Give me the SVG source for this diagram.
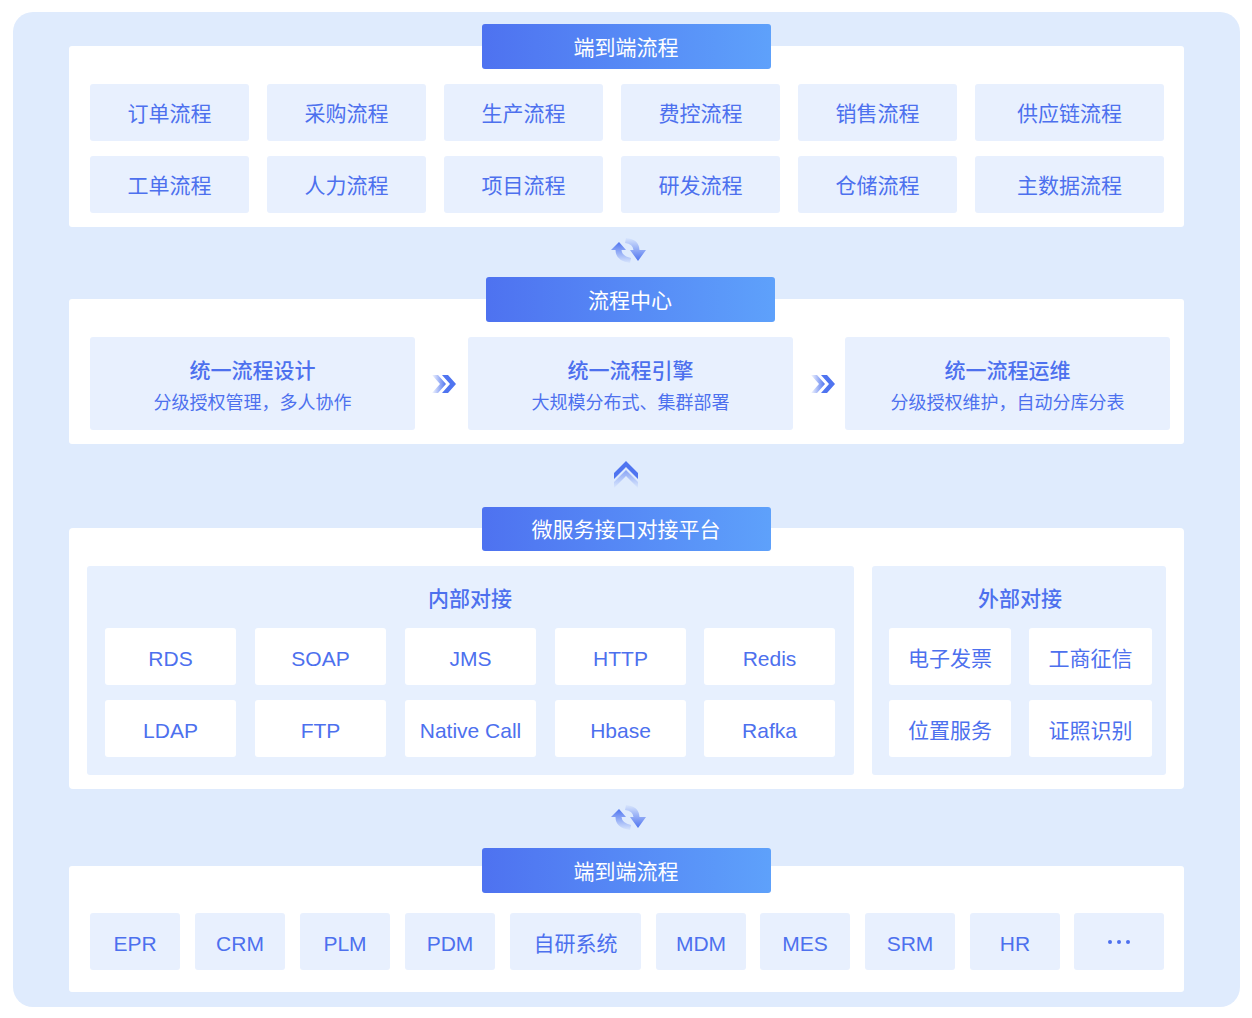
<svg xmlns="http://www.w3.org/2000/svg" width="1252" height="1018" viewBox="0 0 1252 1018">
<defs>
<linearGradient id="hdr" x1="0" y1="0" x2="1" y2="0">
<stop offset="0" stop-color="#4E72F0"/>
<stop offset="1" stop-color="#5EA1FB"/>
</linearGradient>
<linearGradient id="fadeUp" x1="0" y1="1" x2="0" y2="0">
<stop offset="0" stop-color="#4F74F0" stop-opacity="0.05"/>
<stop offset="1" stop-color="#4F74F0"/>
</linearGradient>
<linearGradient id="fadeDown" x1="0" y1="0" x2="0" y2="1">
<stop offset="0" stop-color="#4F74F0" stop-opacity="0.05"/>
<stop offset="1" stop-color="#4F74F0"/>
</linearGradient>
<linearGradient id="fadeRight" x1="0" y1="0" x2="1" y2="0">
<stop offset="0" stop-color="#4F74F0" stop-opacity="0.05"/>
<stop offset="1" stop-color="#4F74F0"/>
</linearGradient>
<linearGradient id="fadeUpChev" x1="0" y1="1" x2="0" y2="0">
<stop offset="0" stop-color="#4F74F0" stop-opacity="0.05"/>
<stop offset="1" stop-color="#4F74F0"/>
</linearGradient>
<g id="refresh">
<path d="M-7,-9 L-15,-1 L-10.5,-1 Q-10.5,10 4,12 L5,7 Q-4,5 -4.5,-1 L0,-1 Z" fill="url(#fadeUp)"/>
<path d="M0,-13 L-1,-8 Q7,-7 7.5,-1 L4,-1 L12,10 L20,-1 L13.5,-1 Q13,-12 0,-13 Z" fill="url(#fadeDown)"/>
</g>
<g id="dchev">
<path d="M-11,-9 L-5,-9 L3,0 L-5,9 L-11,9 L-3,0 Z" fill="url(#fadeRight)"/>
<path d="M-1,-9 L5,-9 L13,0 L5,9 L-1,9 L7,0 Z" fill="#4F74F0"/>
</g>
</defs>
<style>
.bg{fill:#DFEBFD}
.panel{fill:#FFFFFF}
.hdr{fill:url(#hdr)}
.htxt{fill:#FFFFFF;font-family:"Liberation Sans","Noto Sans CJK SC",sans-serif;font-size:21px;text-anchor:middle;dominant-baseline:central}
.box{fill:#E8F0FE}
.wbox{fill:#FFFFFF}
.grp{fill:#E7F0FE}
.t{fill:#4D70EE;font-family:"Liberation Sans","Noto Sans CJK SC",sans-serif;font-size:21px;text-anchor:middle;dominant-baseline:central}
.tb{fill:#4D70EE;font-family:"Noto Sans CJK SC",sans-serif;font-size:21px;font-weight:500;text-anchor:middle;dominant-baseline:central}
.ts{fill:#4D70EE;font-family:"Liberation Sans","Noto Sans CJK SC",sans-serif;font-size:18px;text-anchor:middle;dominant-baseline:central}
</style>
<rect class="bg" x="13" y="12" width="1227" height="995" rx="20"/>

<g id="panel-e2e-top">
<rect class="panel" x="69" y="46" width="1115" height="181" rx="3"/>
<rect class="hdr" x="482" y="24" width="289" height="45" rx="3"/>
<text class="htxt" x="626" y="47">端到端流程</text>
</g>
<g id="n-order"><rect class="box" x="90" y="84" width="159" height="57" rx="3"/><text class="t" x="169.5" y="113">订单流程</text></g>
<g id="n-purchase"><rect class="box" x="267" y="84" width="159" height="57" rx="3"/><text class="t" x="346.5" y="113">采购流程</text></g>
<g id="n-produce"><rect class="box" x="444" y="84" width="159" height="57" rx="3"/><text class="t" x="523.5" y="113">生产流程</text></g>
<g id="n-cost"><rect class="box" x="621" y="84" width="159" height="57" rx="3"/><text class="t" x="700.5" y="113">费控流程</text></g>
<g id="n-sales"><rect class="box" x="798" y="84" width="159" height="57" rx="3"/><text class="t" x="877.5" y="113">销售流程</text></g>
<g id="n-supply"><rect class="box" x="975" y="84" width="189" height="57" rx="3"/><text class="t" x="1069.5" y="113">供应链流程</text></g>
<g id="n-workorder"><rect class="box" x="90" y="156" width="159" height="57" rx="3"/><text class="t" x="169.5" y="185">工单流程</text></g>
<g id="n-hr"><rect class="box" x="267" y="156" width="159" height="57" rx="3"/><text class="t" x="346.5" y="185">人力流程</text></g>
<g id="n-project"><rect class="box" x="444" y="156" width="159" height="57" rx="3"/><text class="t" x="523.5" y="185">项目流程</text></g>
<g id="n-rd"><rect class="box" x="621" y="156" width="159" height="57" rx="3"/><text class="t" x="700.5" y="185">研发流程</text></g>
<g id="n-storage"><rect class="box" x="798" y="156" width="159" height="57" rx="3"/><text class="t" x="877.5" y="185">仓储流程</text></g>
<g id="n-master"><rect class="box" x="975" y="156" width="189" height="57" rx="3"/><text class="t" x="1069.5" y="185">主数据流程</text></g>

<g id="panel-center">
<rect class="panel" x="69" y="299" width="1115" height="145" rx="3"/>
<rect class="hdr" x="486" y="277" width="289" height="45" rx="3"/>
<text class="htxt" x="630" y="300">流程中心</text>
</g>
<g id="n-design"><rect class="box" x="90" y="337" width="325" height="93" rx="3"/><text class="tb" x="252.5" y="369">统一流程设计</text><text class="ts" x="252.5" y="403">分级授权管理，多人协作</text></g>
<g id="n-engine"><rect class="box" x="468" y="337" width="325" height="93" rx="3"/><text class="tb" x="630.5" y="369">统一流程引擎</text><text class="ts" x="630.5" y="403">大规模分布式、集群部署</text></g>
<g id="n-ops"><rect class="box" x="845" y="337" width="325" height="93" rx="3"/><text class="tb" x="1007.5" y="369">统一流程运维</text><text class="ts" x="1007.5" y="403">分级授权维护，自动分库分表</text></g>

<g id="panel-api">
<rect class="panel" x="69" y="528" width="1115" height="261" rx="4"/>
<rect class="hdr" x="482" y="507" width="289" height="44" rx="3"/>
<text class="htxt" x="626" y="529">微服务接口对接平台</text>
</g>
<g id="grp-internal">
<rect class="grp" x="87" y="566" width="767" height="209" rx="3"/>
<text class="tb" x="470" y="597">内部对接</text>
</g>
<g id="n-rds"><rect class="wbox" x="105" y="628" width="131" height="57" rx="3"/><text class="t" x="170.5" y="658">RDS</text></g>
<g id="n-soap"><rect class="wbox" x="255" y="628" width="131" height="57" rx="3"/><text class="t" x="320.5" y="658">SOAP</text></g>
<g id="n-jms"><rect class="wbox" x="405" y="628" width="131" height="57" rx="3"/><text class="t" x="470.5" y="658">JMS</text></g>
<g id="n-http"><rect class="wbox" x="555" y="628" width="131" height="57" rx="3"/><text class="t" x="620.5" y="658">HTTP</text></g>
<g id="n-redis"><rect class="wbox" x="704" y="628" width="131" height="57" rx="3"/><text class="t" x="769.5" y="658">Redis</text></g>
<g id="n-ldap"><rect class="wbox" x="105" y="700" width="131" height="57" rx="3"/><text class="t" x="170.5" y="730">LDAP</text></g>
<g id="n-ftp"><rect class="wbox" x="255" y="700" width="131" height="57" rx="3"/><text class="t" x="320.5" y="730">FTP</text></g>
<g id="n-native"><rect class="wbox" x="405" y="700" width="131" height="57" rx="3"/><text class="t" x="470.5" y="730">Native Call</text></g>
<g id="n-hbase"><rect class="wbox" x="555" y="700" width="131" height="57" rx="3"/><text class="t" x="620.5" y="730">Hbase</text></g>
<g id="n-rafka"><rect class="wbox" x="704" y="700" width="131" height="57" rx="3"/><text class="t" x="769.5" y="730">Rafka</text></g>
<g id="grp-external">
<rect class="grp" x="872" y="566" width="294" height="209" rx="3"/>
<text class="tb" x="1020" y="597">外部对接</text>
</g>
<g id="n-invoice"><rect class="wbox" x="889" y="628" width="122" height="57" rx="3"/><text class="t" x="950" y="658">电子发票</text></g>
<g id="n-credit"><rect class="wbox" x="1029" y="628" width="123" height="57" rx="3"/><text class="t" x="1090.5" y="658">工商征信</text></g>
<g id="n-location"><rect class="wbox" x="889" y="700" width="122" height="57" rx="3"/><text class="t" x="950" y="730">位置服务</text></g>
<g id="n-idocr"><rect class="wbox" x="1029" y="700" width="123" height="57" rx="3"/><text class="t" x="1090.5" y="730">证照识别</text></g>

<g id="panel-e2e-bottom">
<rect class="panel" x="69" y="866" width="1115" height="126" rx="3"/>
<rect class="hdr" x="482" y="848" width="289" height="45" rx="3"/>
<text class="htxt" x="626" y="871">端到端流程</text>
</g>
<g id="n-epr"><rect class="box" x="90" y="913" width="90" height="57" rx="3"/><text class="t" x="135" y="943">EPR</text></g>
<g id="n-crm"><rect class="box" x="195" y="913" width="90" height="57" rx="3"/><text class="t" x="240" y="943">CRM</text></g>
<g id="n-plm"><rect class="box" x="300" y="913" width="90" height="57" rx="3"/><text class="t" x="345" y="943">PLM</text></g>
<g id="n-pdm"><rect class="box" x="405" y="913" width="90" height="57" rx="3"/><text class="t" x="450" y="943">PDM</text></g>
<g id="n-self"><rect class="box" x="510" y="913" width="131" height="57" rx="3"/><text class="t" x="575.5" y="943">自研系统</text></g>
<g id="n-mdm"><rect class="box" x="656" y="913" width="90" height="57" rx="3"/><text class="t" x="701" y="943">MDM</text></g>
<g id="n-mes"><rect class="box" x="760" y="913" width="90" height="57" rx="3"/><text class="t" x="805" y="943">MES</text></g>
<g id="n-srm"><rect class="box" x="865" y="913" width="90" height="57" rx="3"/><text class="t" x="910" y="943">SRM</text></g>
<g id="n-hr2"><rect class="box" x="970" y="913" width="90" height="57" rx="3"/><text class="t" x="1015" y="943">HR</text></g>
<g id="n-more"><rect class="box" x="1074" y="913" width="90" height="57" rx="3"/>
<circle cx="1110" cy="942" r="2" fill="#4D70EE"/><circle cx="1119" cy="942" r="2" fill="#4D70EE"/><circle cx="1128" cy="942" r="2" fill="#4D70EE"/></g>

<g id="connectors">
<use href="#refresh" x="626" y="251"/>
<use href="#dchev" x="443" y="384"/>
<use href="#dchev" x="822" y="384"/>
<g transform="translate(626,470)">
<path d="M-12,3 L0,-9 L12,3 L12,9 L0,-3 L-12,9 Z" fill="#4F74F0"/>
<path d="M-12,12 L0,0 L12,12 L12,18 L0,6 L-12,18 Z" fill="url(#fadeUpChev)" opacity="0.6"/>
</g>
<use href="#refresh" x="626" y="818"/>
</g>
</svg>
